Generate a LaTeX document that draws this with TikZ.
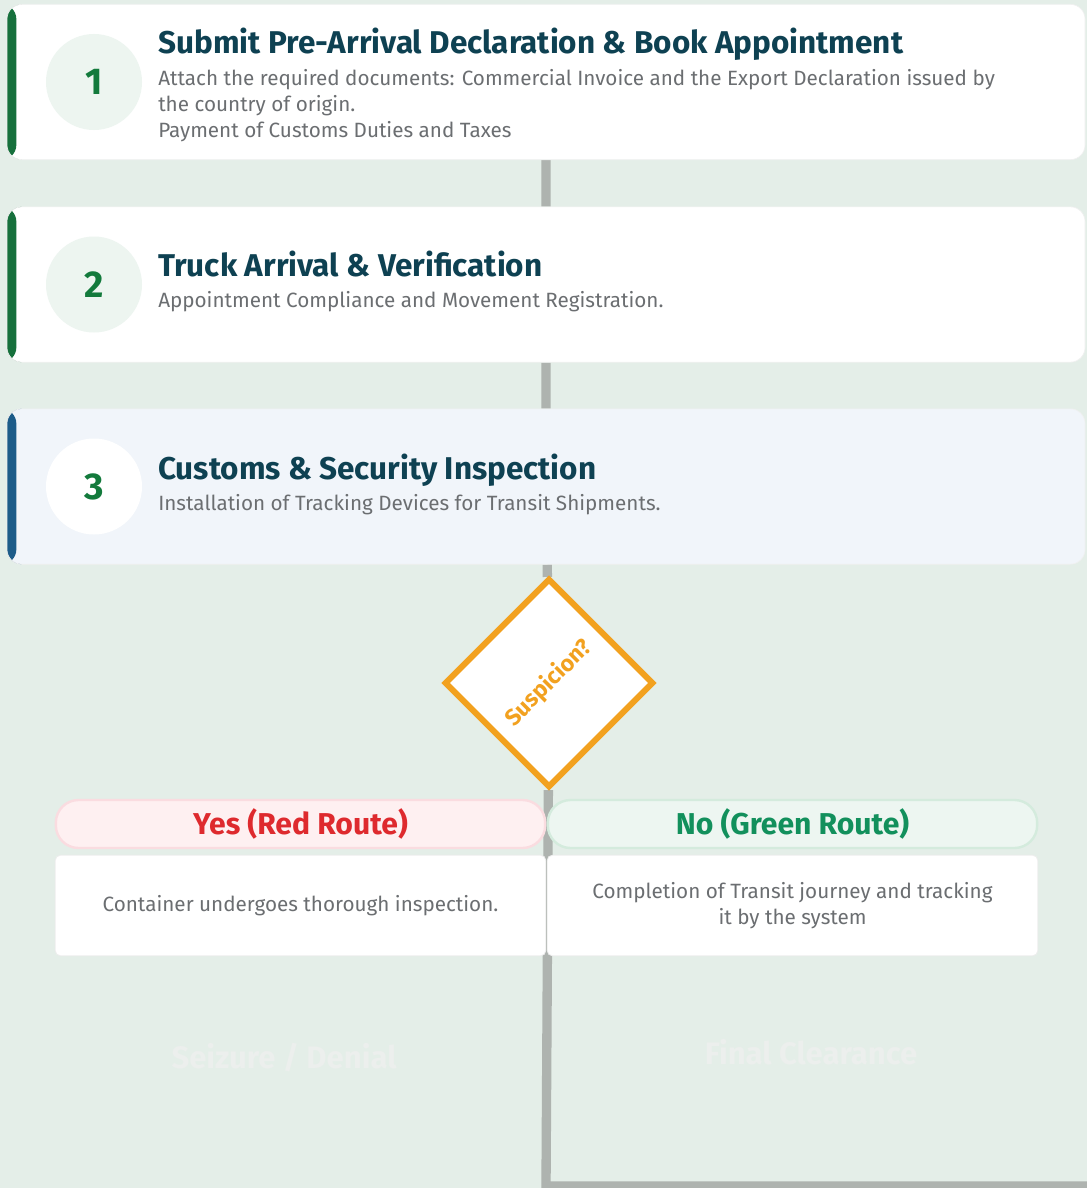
\documentclass[tikz,border=0pt]{standalone}
\usepackage{fontspec}
\setmainfont{Fira Sans}
\usepackage{xcolor}
\usetikzlibrary{positioning,shapes.geometric,backgrounds}

\definecolor{pagebg}{HTML}{E4EEE8}
\definecolor{headteal}{HTML}{0E4152}
\definecolor{bodygray}{HTML}{6B6E71}
\definecolor{stepgreen}{HTML}{16703C}
\definecolor{stepblue}{HTML}{1D5C89}
\definecolor{numgreen}{HTML}{137A3C}
\definecolor{discgreen}{HTML}{EDF5F0}
\definecolor{bluecard}{HTML}{F1F5FA}
\definecolor{spinegray}{HTML}{AEB3AF}
\definecolor{flagorange}{HTML}{F2A11F}
\definecolor{redtext}{HTML}{DE2A2E}
\definecolor{redfill}{HTML}{FEF0F1}
\definecolor{redline}{HTML}{FADCE0}
\definecolor{greentext}{HTML}{12905C}
\definecolor{greenfill}{HTML}{EDF6F1}
\definecolor{greenline}{HTML}{D4EBDD}
\definecolor{ghosttext}{HTML}{ECEFED}

\begin{document}
\begin{tikzpicture}[
  x=0.75pt, y=-0.75pt,
  card/.style={draw=black!6, line width=0.5pt, rounded corners=11pt, fill=white, minimum width=808.5pt, minimum height=116.5pt, inner sep=0pt,
    path picture={\fill[#1] (path picture bounding box.north west) rectangle ([xshift=7pt]path picture bounding box.south west);}},
  disc/.style={circle, fill=discgreen, minimum size=72pt, inner sep=0pt, text=numgreen, font=\fontsize{28}{30}\selectfont\bfseries},
  head/.style={anchor=base west, inner sep=0pt, text=headteal, font=\fontsize{23.6}{26}\selectfont\bfseries},
  body/.style={anchor=north west, inner sep=0pt, align=left, text=bodygray, font=\fontsize{15.5}{19.5}\selectfont},
  spine/.style={draw=spinegray, line width=7pt},
  decision/.style={diamond, aspect=1, draw=flagorange, line width=4.5pt, fill=white, minimum size=157pt, inner sep=0pt, text=flagorange, font=\fontsize{17.2}{18}\selectfont\bfseries},
  route/.style={draw=#1line, line width=1.8pt, fill=#1fill, rounded corners=17pt, minimum width=367pt, minimum height=36pt, text=#1text, font=\fontsize{22.6}{26}\selectfont\bfseries},
  outcome/.style={draw=black!7, line width=0.6pt, fill=white, rounded corners=4pt, minimum width=368pt, minimum height=75.5pt, align=center, text=bodygray, font=\fontsize{15.5}{19.5}\selectfont},
  ghost/.style={text=ghosttext, font=\fontsize{23.3}{26}\selectfont\bfseries}
]
  \useasboundingbox (0,0) rectangle (1087,1188);

  \node[card=stepgreen] (c1) at (546,82) {};
  \node[disc] (n1) at (94,82) {1};
  \node[head] (t1) at (158,54) {Submit Pre-Arrival Declaration \& Book Appointment};
  \node[body] (d1) at ([yshift=-11pt]t1.base west) {Attach the required documents: Commercial Invoice and the Export Declaration issued by\\the country of origin.\\Payment of Customs Duties and Taxes};

  \node[card=stepgreen] (c2) at (546,284.5) {};
  \node[disc] (n2) at (94,284.5) {2};
  \node[head] (t2) at (158,276) {Truck Arrival \& Verification};
  \node[body] (d2) at ([yshift=-11.5pt]t2.base west) {Appointment Compliance and Movement Registration.};

  \node[card=stepblue, fill=bluecard] (c3) at (546,486.5) {};
  \node[disc, fill=white] (n3) at (94,486.5) {3};
  \node[head] (t3) at (158,479) {Customs \& Security Inspection};
  \node[body] (d3) at ([yshift=-11.5pt]t3.base west) {Installation of Tracking Devices for Transit Shipments.};

  \node[decision] (q) at (549,683) {\rotatebox{45}{Suspicion?}};

  \node[route=red] (yes) at (300.5,824) {Yes (Red Route)};
  \node[route=green] (no) at (792.5,824) {No (Green Route)};
  \node[outcome] (yesbox) at (300.5,905.5) {Container undergoes thorough inspection.};
  \node[outcome] (nobox) at (792.5,905.5) {Completion of Transit journey and tracking\\it by the system};

  \node[ghost] (seize) at (284,1058) {Seizure / Denial};
  \node[ghost] (clear) at (811,1052) {Final Clearance};

  \coordinate (bend) at (546,1186);
  \coordinate (tail) at (1100,1186);

  \begin{scope}[on background layer]
    \fill[pagebg] (0,0) rectangle (1087,1188);
    \draw[spine] (c1.south) -- (c2) -- (c3) -- (q) -- (bend) -- (tail);
  \end{scope}
\end{tikzpicture}
\end{document}
